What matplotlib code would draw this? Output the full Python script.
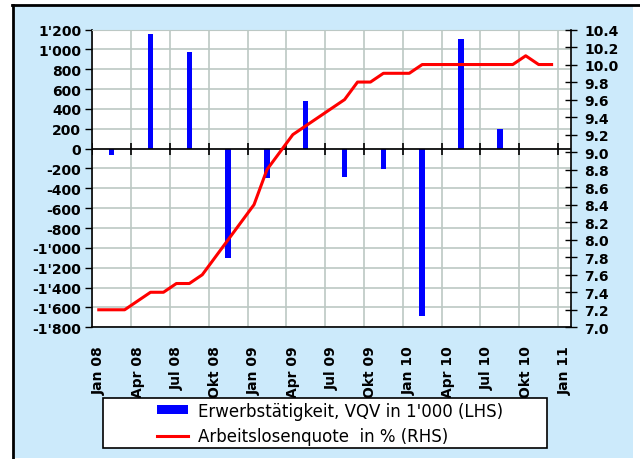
import numpy as np
import matplotlib
matplotlib.use("Agg")
import matplotlib.pyplot as plt
from matplotlib.ticker import FuncFormatter, MultipleLocator
from matplotlib.patches import Rectangle
from matplotlib.lines import Line2D

# monthly categories Jan 08 .. Jan 11
quarter_labels = ['Jan 08', 'Apr 08', 'Jul 08', 'Okt 08', 'Jan 09', 'Apr 09', 'Jul 09',
                  'Okt 09', 'Jan 10', 'Apr 10', 'Jul 10', 'Okt 10', 'Jan 11']
n_months = 37

# employment change, quarter vs quarter (in 1'000), plotted at mid-quarter month
bar_month_idx = [1, 4, 7, 10, 13, 16, 19, 22, 25, 28, 31]
bar_values = [-60, 1150, 975, -1100, -300, 480, -290, -210, -1690, 1100, 200]

# unemployment rate in %, Jan 08 .. Dec 10
rate = [7.2, 7.2, 7.2, 7.3, 7.4, 7.4, 7.5, 7.5, 7.6, 7.8, 8.0, 8.2,
        8.4, 8.8, 9.0, 9.2, 9.3, 9.4, 9.5, 9.6, 9.8, 9.8, 9.9, 9.9,
        9.9, 10.0, 10.0, 10.0, 10.0, 10.0, 10.0, 10.0, 10.0, 10.1, 10.0, 10.0]

BG = '#CCEAFB'
GRID = '#BCC8C4'
plt.rcParams['font.family'] = 'DejaVu Sans'

fig = plt.figure(figsize=(6.4, 4.6), dpi=100)
W, H = 640, 460

# light blue background panel + black frame lines
fig.patches.append(Rectangle((14 / W, 1 / H), 619 / W, 452 / H, transform=fig.transFigure,
                             facecolor=BG, edgecolor='none', zorder=-5))
fig.lines.append(Line2D([12 / W, 1.0], [1 - 5.5 / H, 1 - 5.5 / H], transform=fig.transFigure,
                        color='black', lw=2, zorder=-4))
fig.lines.append(Line2D([12.5 / W, 12.5 / W], [0, 1 - 5.5 / H], transform=fig.transFigure,
                        color='black', lw=2, zorder=-4))

ax = fig.add_axes([92.3 / W, (H - 328.3) / H, 478.7 / W, 297.8 / H])
ax.set_facecolor('white')

bar_x = np.array(bar_month_idx) + 0.5
ax.bar(bar_x, bar_values, width=0.42, color='#0000FF', zorder=3)
ax.axhline(0, color='black', lw=1.2, zorder=4)

quarter_pos = np.arange(0, n_months, 3)
ax.plot(quarter_pos, np.zeros(len(quarter_pos)), ls='none', marker='|', ms=8, mew=1.2,
        color='black', zorder=4)

ax.set_xlim(0, n_months)
ax.set_ylim(-1800, 1200)
ax.set_xticks(quarter_pos)
ax.set_xticklabels([])
ax.set_xticks(quarter_pos + 0.5, minor=True)
ax.set_xticklabels(quarter_labels, minor=True, rotation=90, fontsize=10, fontweight='bold')
ax.tick_params(axis='x', which='both', length=0, pad=13)
ax.yaxis.set_major_locator(MultipleLocator(200))
ax.yaxis.set_major_formatter(FuncFormatter(lambda v, p: f"{int(v):,}".replace(',', "'")))
ax.tick_params(axis='y', length=5, width=1, labelsize=10, pad=3)
for t in ax.get_yticklabels():
    t.set_fontweight('bold')
ax.grid(True, which='major', color=GRID, lw=1.2, zorder=0)
ax.set_axisbelow(True)
for s in ['left', 'bottom']:
    ax.spines[s].set_color('black')
    ax.spines[s].set_linewidth(1.2)
ax.spines['top'].set_color(GRID)
ax.spines['right'].set_visible(False)

ax2 = ax.twinx()
ax2.plot(np.arange(len(rate)) + 0.5, rate, color='#FF0000', lw=2.2, zorder=5)
ax2.set_ylim(7.0, 10.4)
ax2.yaxis.set_major_locator(MultipleLocator(0.2))
ax2.yaxis.set_major_formatter(FuncFormatter(lambda v, p: f"{v:.1f}"))
ax2.tick_params(axis='y', direction='inout', length=9, width=1, labelsize=10, pad=5)
for t in ax2.get_yticklabels():
    t.set_fontweight('bold')
ax2.spines['right'].set_color('black')
ax2.spines['right'].set_linewidth(1.2)
for s in ['top', 'left', 'bottom']:
    ax2.spines[s].set_visible(False)

# legend box
fig.patches.append(Rectangle((102.7 / W, (H - 449.3) / H), 444.3 / W, 50 / H,
                             transform=fig.transFigure, facecolor='white',
                             edgecolor='black', lw=1.2, zorder=1))
handles = [Rectangle((0, 0), 1, 1, facecolor='#0000FF'),
           Line2D([0], [0], color='#FF0000', lw=2.2)]
labels = ["Erwerbstätigkeit, VQV in 1'000 (LHS)", "Arbeitslosenquote  in % (RHS)"]
fig.legend(handles, labels, loc='center', bbox_to_anchor=(330 / W, (H - 424.3) / H),
           frameon=False, fontsize=12, handlelength=1.9, handleheight=0.5,
           labelspacing=0.45, handletextpad=0.6, borderpad=0)

fig.savefig('out.png', dpi=100)
